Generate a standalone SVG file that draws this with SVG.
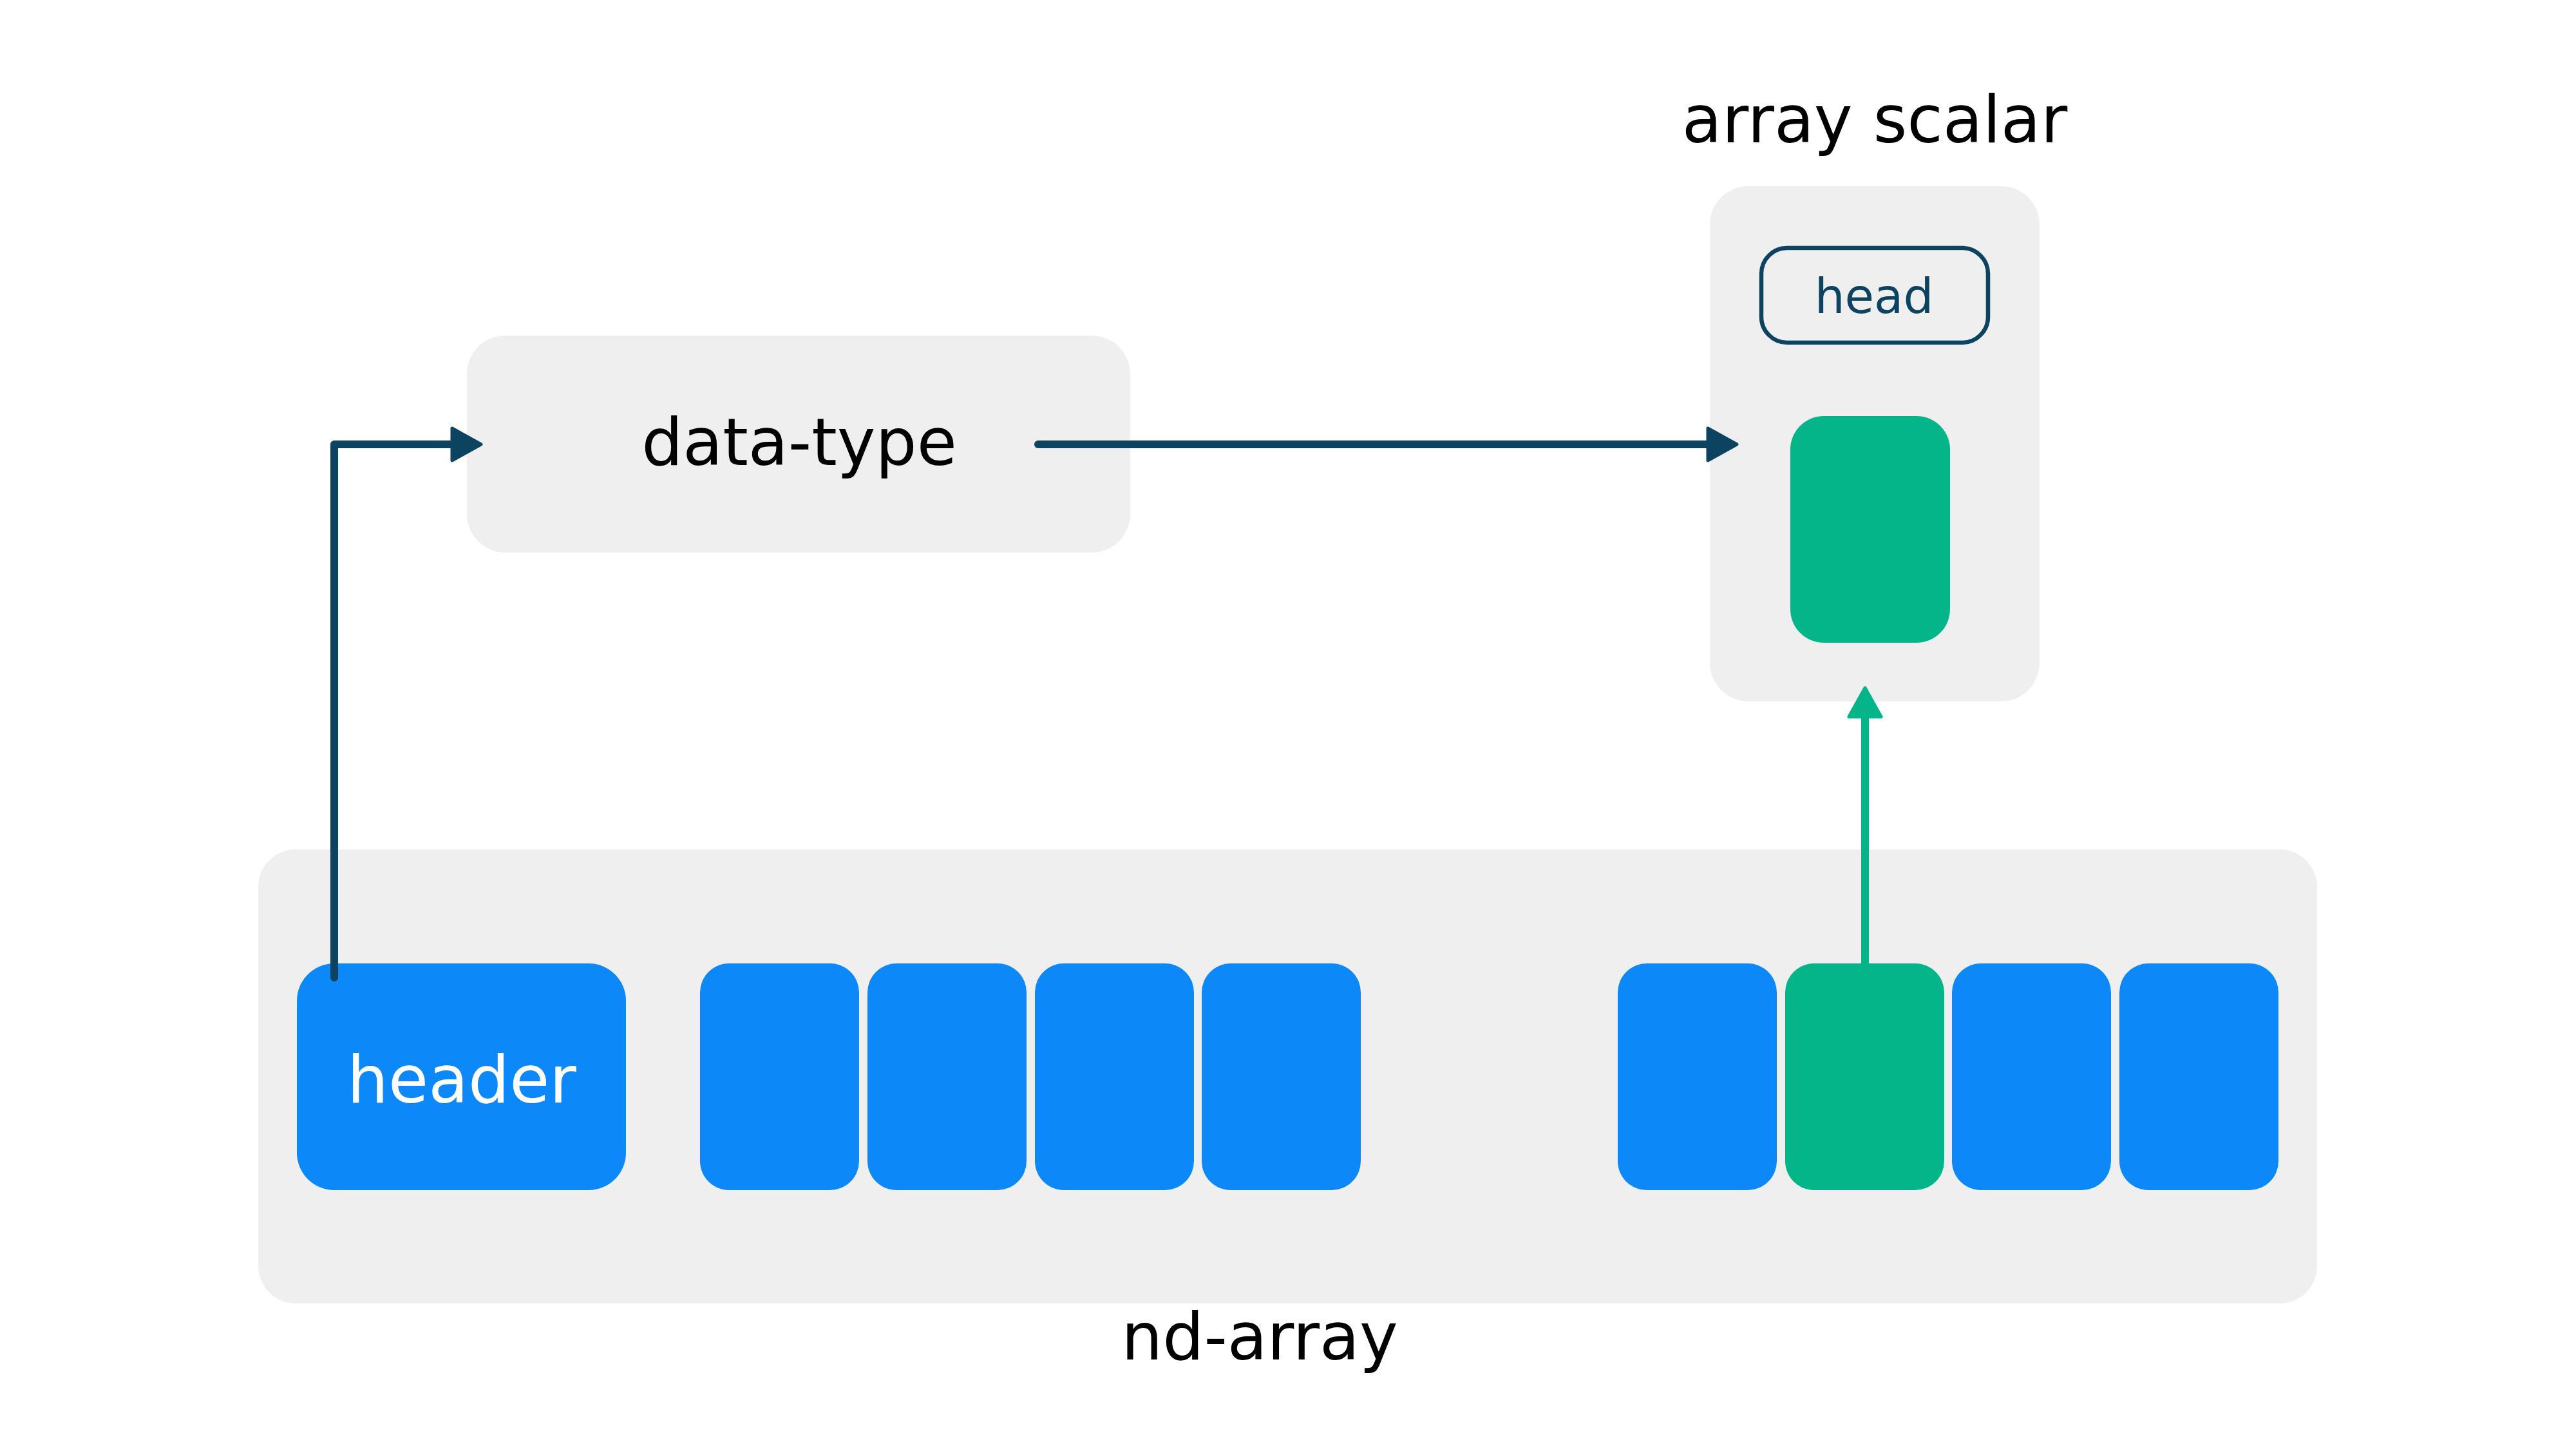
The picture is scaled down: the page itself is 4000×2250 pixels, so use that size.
<svg xmlns="http://www.w3.org/2000/svg" width="4000" height="2250" viewBox="0 0 4000 2250">
<style>
.panel{fill:#EFEFEF}
.blue{fill:#0C88F8}
.green{fill:#03B589}
.lbl{font-family:"DejaVu Sans","Liberation Sans",sans-serif;font-size:101px;fill:#000;text-anchor:middle}
.white{fill:#FFFFFF}
.head{font-size:74px;fill:#0B4360}
.conn{fill:none;stroke-width:12;stroke-linecap:round;stroke-linejoin:round}
.dark{stroke:#0B4360}
.gr{stroke:#03B589}
</style>
<defs>
<marker id="ahDark" markerUnits="userSpaceOnUse" markerWidth="60" markerHeight="60" viewBox="0 0 60 60" refX="4" refY="30" orient="auto">
<path d="M4,5 L49,30 L4,55 Z" fill="#0B4360" stroke="#0B4360" stroke-width="5" stroke-linejoin="round"/>
</marker>
<marker id="ahGreen" markerUnits="userSpaceOnUse" markerWidth="60" markerHeight="60" viewBox="0 0 60 60" refX="4" refY="30" orient="auto">
<path d="M4,5 L49,30 L4,55 Z" fill="#03B589" stroke="#03B589" stroke-width="5" stroke-linejoin="round"/>
</marker>
</defs>
<rect width="4000" height="2250" fill="#FFFFFF"/>

<g id="data-type">
<rect class="panel" x="725" y="521" width="1030" height="337" rx="60"/>
<text class="lbl" x="1241" y="722">data-type</text>
</g>

<g id="array-scalar">
<text class="lbl" x="2911" y="221">array scalar</text>
<rect class="panel" x="2655" y="289" width="512" height="800" rx="60"/>
<g id="head">
<rect x="2735" y="385" width="352" height="147" rx="40" fill="none" stroke="#0B4360" stroke-width="6.5"/>
<text class="lbl head" x="2910" y="486">head</text>
</g>
<rect id="scalar-value" class="green" x="2780" y="646" width="248" height="352" rx="52"/>
</g>

<g id="nd-array">
<rect class="panel" x="401" y="1319" width="3197" height="705" rx="58"/>
<g id="header">
<rect class="blue" x="461" y="1496" width="511" height="352" rx="58"/>
<text class="lbl white" x="717" y="1712">header</text>
</g>
<g id="cells-1">
<rect class="blue" x="1087" y="1496" width="247" height="352" rx="45"/>
<rect class="blue" x="1347" y="1496" width="247" height="352" rx="45"/>
<rect class="blue" x="1607" y="1496" width="247" height="352" rx="45"/>
<rect class="blue" x="1866" y="1496" width="247" height="352" rx="45"/>
</g>
<g id="cells-2">
<rect class="blue" x="2512" y="1496" width="247" height="352" rx="45"/>
<rect class="green" x="2772" y="1496" width="247" height="352" rx="45"/>
<rect class="blue" x="3031" y="1496" width="247" height="352" rx="45"/>
<rect class="blue" x="3291" y="1496" width="247" height="352" rx="45"/>
</g>
<text class="lbl" x="1956" y="2111">nd-array</text>
</g>

<g id="connectors">
<path class="conn dark" d="M519,1518 L519,690 L702,690" marker-end="url(#ahDark)"/>
<path class="conn dark" d="M1612,690 L2652,690" marker-end="url(#ahDark)"/>
<path class="conn gr" d="M2896,1500 L2896,1113" marker-end="url(#ahGreen)"/>
</g>
</svg>
